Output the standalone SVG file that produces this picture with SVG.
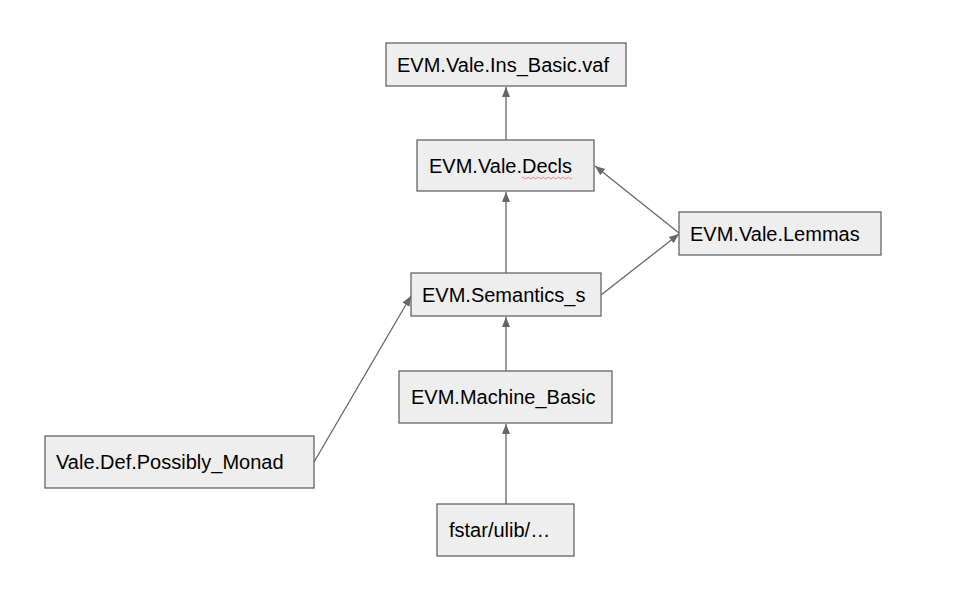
<svg xmlns="http://www.w3.org/2000/svg" width="970" height="592" viewBox="0 0 970 592">
<style>
.node rect{fill:#eeeeee;stroke:#666666;stroke-width:1.3}
.node text{font-family:"Liberation Sans",Arial,sans-serif;font-size:20px;fill:#000000;dominant-baseline:central}
.edge{stroke:#666666;stroke-width:1.3;fill:none;marker-end:url(#arr)}
</style>
<defs>
<marker id="arr" viewBox="0 0 10 10" refX="10" refY="5" markerWidth="10" markerHeight="10" markerUnits="userSpaceOnUse" orient="auto">
<path d="M0,1 L10,5 L0,9 Z" fill="#666666"/>
</marker>
</defs>
<rect width="970" height="592" fill="#ffffff"/>
<g id="connectors">
<line class="edge" x1="506" y1="140" x2="506" y2="87"/>
<line class="edge" x1="506" y1="273" x2="506" y2="192"/>
<line class="edge" x1="506" y1="371" x2="506" y2="317"/>
<line class="edge" x1="506" y1="504" x2="506" y2="424"/>
<line class="edge" x1="679" y1="233" x2="595" y2="166"/>
<line class="edge" x1="601" y1="295" x2="679" y2="234"/>
<line class="edge" x1="314" y1="462" x2="411" y2="296"/>
</g>
<g id="n_ins_basic" class="node">
<rect x="386" y="43" width="240" height="43"/>
<text x="397" y="64.5">EVM.Vale.Ins_Basic.vaf</text>
</g>
<g id="n_decls" class="node">
<rect x="417" y="140" width="177" height="51"/>
<text x="429" y="166">EVM.Vale.Decls</text>
<path d="M522,178 q1.25,-1.5 2.5,0 t2.5,0 t2.5,0 t2.5,0 t2.5,0 t2.5,0 t2.5,0 t2.5,0 t2.5,0 t2.5,0 t2.5,0 t2.5,0 t2.5,0 t2.5,0 t2.5,0 t2.5,0 t2.5,0 t2.5,0 t2.5,0 t2.5,0" fill="none" stroke="#e06666" stroke-width="0.8"/>
</g>
<g id="n_lemmas" class="node">
<rect x="679" y="212" width="202" height="43"/>
<text x="690" y="233.5">EVM.Vale.Lemmas</text>
</g>
<g id="n_semantics" class="node">
<rect x="411" y="273" width="190" height="43"/>
<text x="422" y="295">EVM.Semantics_s</text>
</g>
<g id="n_machine" class="node">
<rect x="399" y="371" width="213" height="52"/>
<text x="411" y="397">EVM.Machine_Basic</text>
</g>
<g id="n_possibly" class="node">
<rect x="45" y="436" width="269" height="52"/>
<text x="56" y="462">Vale.Def.Possibly_Monad</text>
</g>
<g id="n_fstar" class="node">
<rect x="437" y="504" width="137" height="52"/>
<text x="449" y="530">fstar/ulib/…</text>
</g>
</svg>
